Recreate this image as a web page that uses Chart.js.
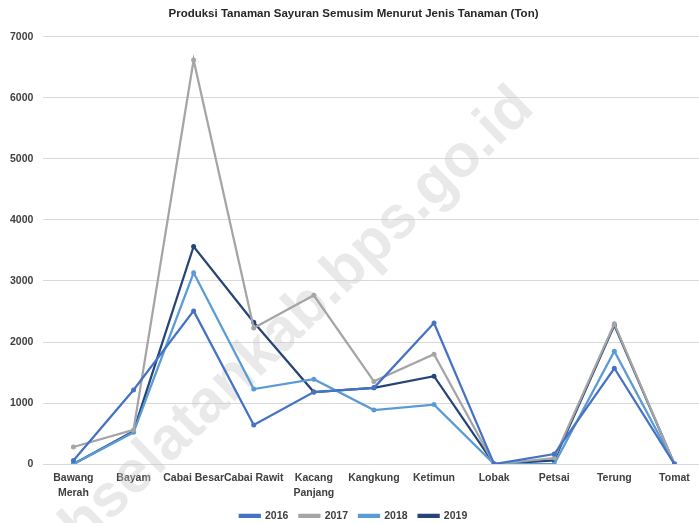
<!DOCTYPE html>
<html>
<head>
<meta charset="utf-8">
<script src="https://cdn.jsdelivr.net/npm/chart.js@4.4.1/dist/chart.umd.min.js"></script>
<style>
  html, body { margin: 0; padding: 0; background: #fff; overflow: hidden; }
  #wrap { width: 707px; height: 531px; position: relative; }
</style>
</head>
<body>
<div id="wrap"><canvas id="grafik"></canvas></div>
<script>
// Jenis tanaman (label sumbu X)
const kategori = [
  ['Bawang', 'Merah'], 'Bayam', 'Cabai Besar', 'Cabai Rawit', ['Kacang', 'Panjang'],
  'Kangkung', 'Ketimun', 'Lobak', 'Petsai', 'Terung', 'Tomat'
];

// Produksi per tahun (ton)
const produksi2016 = [60, 1215, 2510, 640, 1180, 1250, 2310, 0, 165, 1570, 0];
const produksi2017 = [280, 560, 6620, 2230, 2765, 1355, 1800, 0, 100, 2300, 0];
const produksi2018 = [0, 520, 3135, 1230, 1390, 885, 975, 0, 0, 1850, 0];
const produksi2019 = [0, 540, 3565, 2325, 1180, 1250, 1440, 0, 60, 2275, 0];

const tickY = [0, 1000, 2000, 3000, 4000, 5000, 6000, 7000];

const FONT = '"Liberation Sans", Arial, sans-serif';

function seri(label, data, warna) {
  return {
    label: label,
    data: data,
    borderColor: warna,
    backgroundColor: warna,
    borderWidth: 2.25,
    pointRadius: 2.5,
    pointHoverRadius: 2.5,
    pointBorderWidth: 0,
    tension: 0
  };
}

// Watermark miring di tengah grafik
const watermark = {
  id: 'watermark',
  beforeDatasetsDraw(chart) {
    const ctx = chart.ctx;
    ctx.save();
    ctx.translate(262, 352);
    ctx.rotate(-44 * Math.PI / 180);
    ctx.font = 'bold 60px "Liberation Sans", Arial, sans-serif';
    ctx.fillStyle = 'rgba(200, 200, 200, 0.4)';
    ctx.textAlign = 'center';
    ctx.textBaseline = 'middle';
    ctx.fillText('acehselatankab.bps.go.id', 0, 0);
    ctx.restore();
  }
};

new Chart(document.getElementById('grafik'), {
  type: 'line',
  data: {
    labels: kategori,
    datasets: [
      seri('2016', produksi2016, '#4472c4'),
      seri('2017', produksi2017, '#a5a5a5'),
      seri('2018', produksi2018, '#5b9bd5'),
      seri('2019', produksi2019, '#264478')
    ]
  },
  options: {
    responsive: true,
    maintainAspectRatio: false,
    animation: false,
    layout: { padding: { left: 0, right: 0, top: 4, bottom: 0 } },
    plugins: {
      title: {
        display: true,
        text: 'Produksi Tanaman Sayuran Semusim Menurut Jenis Tanaman (Ton)',
        color: '#262626',
        font: { family: FONT, size: 11.5, weight: 'bold' },
        padding: { top: 3, bottom: 16 }
      },
      legend: {
        position: 'bottom',
        labels: {
          color: '#404040',
          font: { family: FONT, size: 10.5, weight: 'bold' },
          boxWidth: 20,
          boxHeight: 2,
          padding: 11
        }
      },
      tooltip: { enabled: false }
    },
    scales: {
      x: {
        offset: true,
        grid: { display: false },
        border: { display: false },
        ticks: {
          color: '#404040',
          font: { family: FONT, size: 10.5, weight: 'bold', lineHeight: 1.4 },
          maxRotation: 0,
          autoSkip: false,
          padding: -1
        }
      },
      y: {
        min: 0,
        max: 7000,
        afterBuildTicks(axis) { axis.ticks = tickY.map(v => ({ value: v })); },
        grid: { color: '#d9d9d9', lineWidth: 1, drawTicks: false },
        border: { display: false },
        ticks: {
          color: '#404040',
          font: { family: FONT, size: 10.5, weight: 'bold' },
          padding: 10,
          callback: v => String(v)
        }
      }
    }
  },
  plugins: [watermark]
});
</script>
</body>
</html>
